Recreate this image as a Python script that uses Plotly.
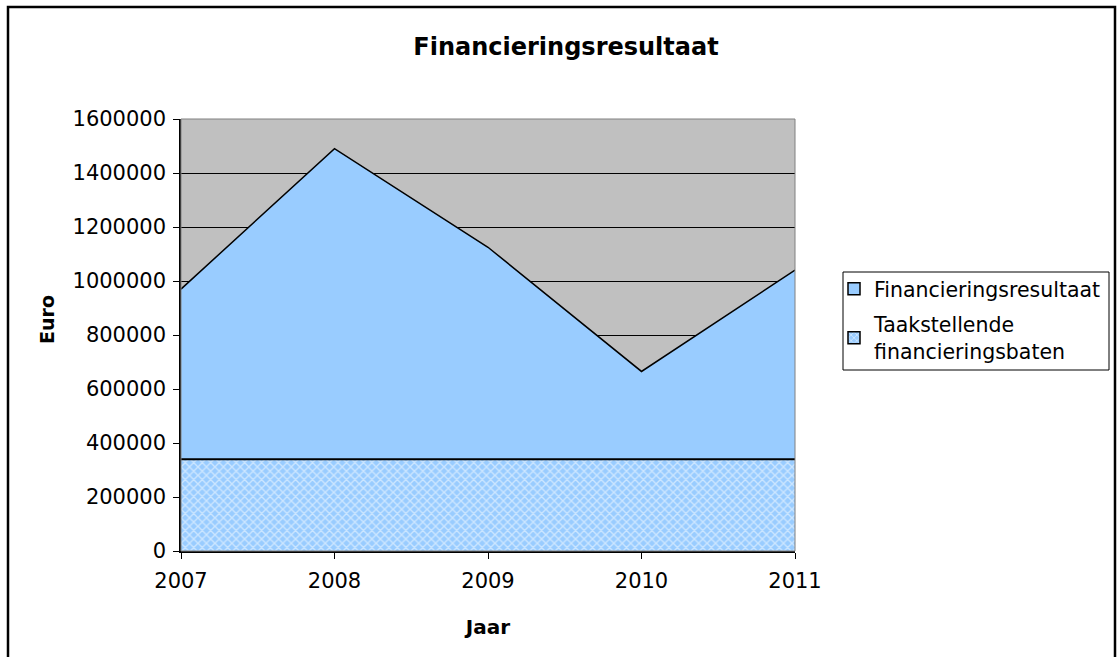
import plotly.graph_objects as go

years = [2007, 2008, 2009, 2010, 2011]
financieringsresultaat = [970000, 1490000, 1125000, 665000, 1040000]
taakstellende = [340000, 340000, 340000, 340000, 340000]
y_ticks = [0, 200000, 400000, 600000, 800000, 1000000, 1200000, 1400000, 1600000]

FONT = "DejaVu Sans, Liberation Sans, Arial, sans-serif"
W, H = 1117, 657
L, R, T, B = 181, 795, 119, 551
BLUE = "#99ccff"

fig = go.Figure()
fig.add_trace(go.Scatter(
    x=years, y=financieringsresultaat, name="Financieringsresultaat",
    mode="lines", fill="tozeroy", fillcolor=BLUE,
    line=dict(color="black", width=1.5), showlegend=False,
))
fig.add_trace(go.Scatter(
    x=years, y=taakstellende, name="Taakstellende financieringsbaten",
    mode="lines", fill="tozeroy", fillcolor=BLUE,
    fillpattern=dict(shape="x", fgcolor="#ffffff", bgcolor=BLUE, size=6, solidity=0.4),
    line=dict(color="black", width=2), showlegend=False,
))
# legend entries (square swatches as in the reference)
fig.add_trace(go.Bar(x=[None], y=[None], name="Financieringsresultaat",
                     marker=dict(color=BLUE, line=dict(color="black", width=1.5)),
                     legendgroup="a"))
fig.add_trace(go.Bar(x=[None], y=[None], name="Taakstellende<br>financieringsbaten",
                     marker=dict(color=BLUE, line=dict(color="black", width=1.5),
                                 pattern=dict(shape="x", fgcolor="#ffffff", bgcolor=BLUE,
                                              size=5, solidity=0.4)),
                     legendgroup="b"))


def px(xp):
    return (xp - L) / (R - L)


def py(yp):
    return (B - yp) / (B - T)


# outer chart frame
fig.add_shape(type="rect", xref="paper", yref="paper",
              x0=px(8), x1=px(1115), y0=py(670), y1=py(7),
              line=dict(color="black", width=2.5), layer="below")
# plot-area border
fig.add_shape(type="rect", xref="paper", yref="paper", x0=0, x1=1, y0=0, y1=1,
              line=dict(color="#808080", width=1))
# legend box
fig.add_shape(type="rect", xref="paper", yref="paper",
              x0=px(843), x1=px(1109), y0=py(370), y1=py(272),
              line=dict(color="black", width=1), fillcolor="white", layer="below")

fig.add_annotation(text="<b>Euro</b>", xref="paper", yref="paper",
                   x=px(47), y=py(320), textangle=-90, showarrow=False,
                   xanchor="center", yanchor="middle", font=dict(size=19, family=FONT))

fig.update_layout(
    width=W, height=H,
    margin=dict(l=L, r=W - R, t=T, b=H - B, autoexpand=False),
    paper_bgcolor="white", plot_bgcolor="#c0c0c0",
    font=dict(family=FONT, size=21, color="black"),
    title=dict(text="<b>Financieringsresultaat</b>", x=566 / W, xanchor="center",
               y=1 - 47 / H, yanchor="middle", font=dict(size=24, family=FONT)),
    xaxis=dict(range=[2007, 2011], tickvals=years, ticktext=[str(y) for y in years],
               showgrid=False, zeroline=False, showline=True, linecolor="black", linewidth=1.5,
               ticks="outside", ticklen=6, tickcolor="black", ticklabelstandoff=4,
               automargin=False,
               title=dict(text="<b>Jaar</b>", font=dict(size=20), standoff=28)),
    yaxis=dict(range=[0, 1600000], tickvals=y_ticks, ticktext=[str(v) for v in y_ticks],
               showgrid=True, gridcolor="black", gridwidth=1, zeroline=False,
               showline=True, linecolor="black", linewidth=1.5,
               ticks="outside", ticklen=6, tickcolor="black", ticklabelstandoff=3,
               automargin=False),
    legend=dict(xref="container", yref="container", x=834 / W, y=1 - 269 / H,
                xanchor="left", yanchor="top",
                borderwidth=0, bgcolor="rgba(0,0,0,0)",
                font=dict(size=20.5, family=FONT), tracegroupgap=6, itemwidth=30),
    showlegend=True,
)

fig.write_html("out.html", config={"displayModeBar": False},
               post_script="document.body.style.margin='0';document.body.style.overflow='hidden';")
